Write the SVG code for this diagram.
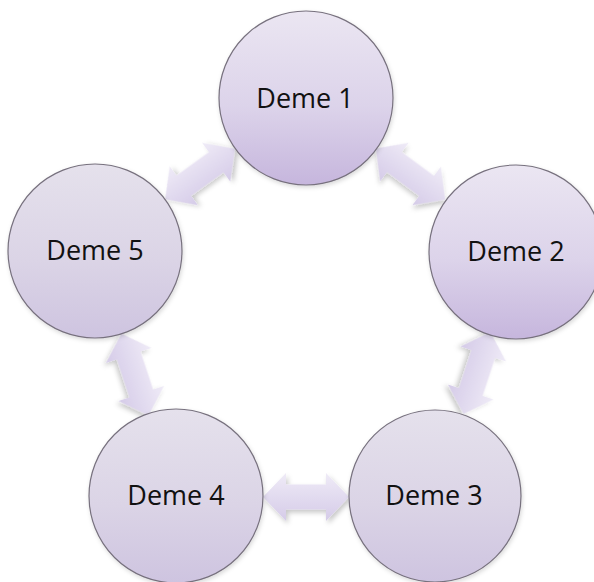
<svg xmlns="http://www.w3.org/2000/svg" xmlns:xlink="http://www.w3.org/1999/xlink" width="594" height="582" viewBox="0 0 594 582">
  <defs>
    <style>
      .deme { stroke: #77717e; stroke-width: 1.2; }
      .label { font-family: "Open Sans", "Liberation Sans", sans-serif; font-size: 27px; fill: #111; text-anchor: middle; }
      .flow { fill: url(#arrowFill); filter: url(#arrowShadow); }
    </style>
    <linearGradient id="fillStrong" x1="0" y1="0" x2="0" y2="1">
      <stop offset="0" stop-color="#ebe6f2"/>
      <stop offset="0.55" stop-color="#dcd3ea"/>
      <stop offset="1" stop-color="#c6b6dd"/>
    </linearGradient>
    <linearGradient id="fillSoft" x1="0" y1="0" x2="0" y2="1">
      <stop offset="0" stop-color="#e5e1ec"/>
      <stop offset="0.55" stop-color="#dbd4e6"/>
      <stop offset="1" stop-color="#cec4e0"/>
    </linearGradient>
    <linearGradient id="arrowFill" x1="0" y1="0" x2="0" y2="1">
      <stop offset="0" stop-color="#efebf7"/>
      <stop offset="1" stop-color="#d5cbe8"/>
    </linearGradient>
    <filter id="arrowShadow" x="-30%" y="-60%" width="160%" height="220%">
      <feDropShadow dx="2" dy="3" stdDeviation="2.5" flood-color="#000" flood-opacity="0.22"/>
    </filter>
    <filter id="discShadow" x="-20%" y="-20%" width="140%" height="140%">
      <feDropShadow dx="1" dy="2" stdDeviation="2" flood-color="#000" flood-opacity="0.15"/>
    </filter>
    <!-- double-headed block arrow, centred on the origin, pointing along x -->
    <path id="biArrow" d="M -43,0 L -20,-24 L -20,-12.5 L 20,-12.5 L 20,-24 L 43,0 L 20,24 L 20,12.5 L -20,12.5 L -20,24 Z"/>
  </defs>

  <rect width="594" height="582" fill="#ffffff"/>

  <g id="connectors">
    <use xlink:href="#biArrow" class="flow" transform="translate(410.5,174) rotate(36.4)"/>
    <use xlink:href="#biArrow" class="flow" transform="translate(477,373) rotate(108.2)"/>
    <use xlink:href="#biArrow" class="flow" transform="translate(306,497) rotate(0)"/>
    <use xlink:href="#biArrow" class="flow" transform="translate(135,374.5) rotate(71.7)"/>
    <use xlink:href="#biArrow" class="flow" transform="translate(200,174) rotate(-35.9)"/>
  </g>

  <g id="deme1">
    <circle class="deme" cx="306" cy="98" r="87" fill="url(#fillStrong)" filter="url(#discShadow)"/>
    <text class="label" x="305" y="108">Deme 1</text>
  </g>
  <g id="deme2">
    <circle class="deme" cx="516" cy="252" r="87" fill="url(#fillStrong)" filter="url(#discShadow)"/>
    <text class="label" x="516" y="261">Deme 2</text>
  </g>
  <g id="deme3">
    <circle class="deme" cx="435" cy="496" r="86" fill="url(#fillSoft)" filter="url(#discShadow)"/>
    <text class="label" x="434" y="505">Deme 3</text>
  </g>
  <g id="deme4">
    <circle class="deme" cx="176" cy="496" r="87" fill="url(#fillSoft)" filter="url(#discShadow)"/>
    <text class="label" x="176" y="505">Deme 4</text>
  </g>
  <g id="deme5">
    <circle class="deme" cx="95" cy="251" r="87" fill="url(#fillSoft)" filter="url(#discShadow)"/>
    <text class="label" x="95" y="260">Deme 5</text>
  </g>
</svg>
